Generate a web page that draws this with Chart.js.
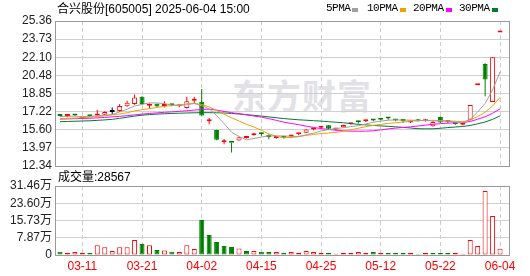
<!DOCTYPE html>
<html>
<head>
<meta charset="utf-8">
<script src="https://cdn.jsdelivr.net/npm/chart.js@4/dist/chart.umd.min.js"></script>
<style>
body { margin: 0; width: 530px; height: 276px; background: #fff; overflow: hidden; position: relative;
  font-family: "Liberation Sans", "Noto Sans CJK SC", sans-serif; }
canvas { position: absolute; left: 0; z-index: 1; }
#price { top: 0; }
#volume { top: 170px; }
.txt { position: absolute; z-index: 2; font-size: 12px; line-height: 14px; color: #000; white-space: pre; }
.lg { position: absolute; z-index: 2; top: 3px; font: 11px/11px "Liberation Mono", monospace; letter-spacing: -0.5px; color: #000; }
.sw { position: absolute; z-index: 2; top: 8px; width: 6px; height: 4px; }
#mark { position: absolute; z-index: 0; left: 232px; top: 77px; font: bold 34px/36px "Noto Sans CJK SC"; color: #e2e2e6; letter-spacing: 1px; }
</style>
</head>
<body>
<div id="mark">东方财富</div>
<div class="txt" style="left:57px;top:2px">合兴股份[605005] 2025-06-04 15:00</div>
<div class="lg" style="left:326px">5PMA</div><div class="sw" style="left:352px;background:#a0a0a0"></div>
<div class="lg" style="left:367px">10PMA</div><div class="sw" style="left:400px;background:#f0a000"></div>
<div class="lg" style="left:413px">20PMA</div><div class="sw" style="left:446px;background:#ff00ff"></div>
<div class="lg" style="left:459px">30PMA</div><div class="sw" style="left:492px;background:#007a33"></div>
<div class="txt" style="left:58px;top:170px">成交量:28567</div>
<canvas id="price" width="530" height="180"></canvas>
<canvas id="volume" width="530" height="106"></canvas>
<script>
var dates = ['03-06','03-07','03-10','03-11','03-12','03-13','03-14','03-17','03-18','03-19',
  '03-20','03-21','03-24','03-25','03-26','03-27','03-28','03-31','04-01','04-02',
  '04-03','04-07','04-08','04-09','04-10','04-11','04-14','04-15','04-16','04-17',
  '04-18','04-21','04-22','04-23','04-24','04-25','04-28','04-29','04-30','05-06',
  '05-07','05-08','05-09','05-12','05-13','05-14','05-15','05-16','05-19','05-20',
  '05-21','05-22','05-23','05-26','05-27','05-28','05-29','05-30','06-03','06-04'];

var openP = [16.85,16.83,16.90,16.58,16.82,16.88,16.95,17.20,17.28,17.70,
  17.90,18.55,17.75,17.92,17.72,17.85,17.70,17.55,18.20,18.10,
  16.36,15.57,14.48,14.43,14.62,14.86,15.10,15.25,15.00,14.85,
  14.90,15.00,15.18,15.33,15.62,15.78,16.00,15.62,15.82,16.10,
  16.30,16.35,16.53,16.55,16.65,16.45,16.42,16.24,16.53,16.36,
  15.90,16.75,16.35,16.15,16.05,16.50,19.60,21.50,18.09,24.32];
var highP = [16.88,16.98,16.98,16.70,16.88,17.36,17.25,17.60,17.90,18.20,
  18.75,18.60,17.95,17.95,18.15,17.90,17.80,18.55,18.55,19.25,
  16.65,15.60,14.76,14.45,14.95,15.00,15.30,15.35,15.20,14.98,
  14.95,15.15,15.30,15.65,15.75,15.90,16.02,15.75,16.05,16.22,
  16.40,16.52,16.55,16.62,16.72,16.50,16.52,16.42,16.55,16.55,
  16.35,16.78,16.45,16.20,16.25,17.82,19.60,21.56,22.11,24.32];
var lowP = [16.80,16.72,16.82,16.55,16.75,16.85,16.90,17.00,17.20,17.65,
  17.85,17.85,17.50,17.65,17.60,17.70,17.62,17.50,17.97,16.80,
  16.10,14.65,14.29,13.55,14.60,14.80,15.08,15.05,14.75,14.78,
  14.80,14.90,15.10,15.30,15.55,15.70,15.65,15.55,15.80,16.05,
  16.15,16.30,16.35,16.45,16.50,16.35,16.20,16.20,16.33,16.34,
  15.88,16.20,16.18,16.05,16.00,16.45,19.60,18.60,18.09,24.32];
var closeP = [16.83,16.86,16.88,16.66,16.80,17.05,17.20,17.20,17.73,18.02,
  18.50,17.90,17.88,17.68,17.80,17.80,17.75,18.15,18.25,16.87,
  16.40,14.70,14.52,14.42,14.92,14.90,15.27,15.20,14.95,14.90,
  14.87,15.08,15.22,15.62,15.68,15.84,15.68,15.68,16.02,16.18,
  16.26,16.47,16.42,16.50,16.60,16.42,16.38,16.40,16.36,16.53,
  16.30,16.25,16.30,16.10,16.20,17.82,19.60,20.10,22.11,24.32];

var ma5 = [16.78,16.80,16.82,16.78,16.80,16.84,16.91,16.97,17.20,17.44,
  17.73,17.87,18.01,18.00,17.95,17.81,17.78,17.84,17.95,17.76,
  17.48,16.87,16.15,15.38,14.99,14.69,14.81,14.94,15.05,15.04,
  15.04,15.00,15.00,15.14,15.29,15.49,15.61,15.70,15.78,15.88,
  15.96,16.12,16.27,16.37,16.45,16.48,16.46,16.46,16.43,16.42,
  16.39,16.37,16.35,16.30,16.23,16.53,17.20,17.96,19.17,20.79];
var ma10 = [16.60,16.62,16.65,16.68,16.72,16.78,16.85,16.92,17.02,17.12,
  17.29,17.39,17.49,17.60,17.70,17.77,17.83,17.92,17.97,17.86,
  17.65,17.33,16.99,16.67,16.38,16.09,15.84,15.55,15.22,15.02,
  14.87,14.90,14.97,15.09,15.17,15.26,15.30,15.35,15.46,15.59,
  15.73,15.87,15.99,16.07,16.17,16.22,16.29,16.37,16.40,16.43,
  16.44,16.42,16.40,16.36,16.32,16.46,16.79,17.16,17.73,18.51];
var ma20 = [16.55,16.57,16.59,16.61,16.63,16.66,16.70,16.75,16.80,16.86,
  16.93,17.00,17.06,17.11,17.16,17.20,17.25,17.30,17.36,17.42,
  17.44,17.36,17.24,17.13,17.04,16.93,16.83,16.73,16.59,16.44,
  16.28,16.16,16.05,15.92,15.80,15.70,15.62,15.55,15.50,15.47,
  15.46,15.47,15.50,15.58,15.67,15.74,15.80,15.86,15.93,16.01,
  16.08,16.14,16.19,16.22,16.24,16.34,16.54,16.76,17.07,17.47];
var ma30 = [16.32,16.34,16.36,16.38,16.40,16.44,16.48,16.53,16.62,16.72,
  16.82,16.90,16.96,17.00,17.03,17.06,17.08,17.10,17.12,17.13,
  17.13,17.12,17.10,17.06,17.01,16.95,16.89,16.82,16.75,16.67,
  16.60,16.54,16.49,16.45,16.41,16.37,16.32,16.27,16.22,16.15,
  16.08,16.03,15.98,15.94,15.90,15.86,15.81,15.75,15.69,15.68,
  15.68,15.73,15.79,15.84,15.89,15.98,16.13,16.29,16.53,16.84];

// volume in 万 (10k shares); volRise: 1 = red hollow bar, 0 = green
var volume = [1.5,0.9,1.4,0.9,0.9,4.4,3.5,1.8,3.5,3.5,
  6.8,5.0,4.4,2.3,2.1,1.5,1.4,4.4,2.7,16.0,
  9.1,5.9,4.1,3.6,3.0,1.8,1.8,1.5,1.4,1.4,
  0.9,1.4,0.9,1.8,1.4,0.9,0.9,0.6,0.9,0.9,
  1.4,0.9,1.4,0.9,0.9,0.9,0.9,0.9,0.5,0.9,
  0.9,0.9,0.9,0.9,0.5,6.8,4.1,29.2,17.8,2.8567];
var volRise = [0,1,1,1,0,1,1,1,1,1, 1,0,1,0,1,0,1,1,1,0, 0,0,0,0,1,0,1,0,0,1,
  0,1,1,1,1,1,0,1,1,1, 1,1,0,1,0,0,0,1,0,1, 0,0,0,1,1,1,1,1,1,1];

var tickDates = ['03-11','03-21','04-02','04-15','04-25','05-12','05-22','06-04'];
var priceTicks = [12.34,13.97,15.60,17.22,18.85,20.48,22.10,23.73,25.36];
var volTicks = [0,7.87,15.73,23.60,31.46];

var UP = '#ff0000', DOWN = '#008000';
var FONT = {family: "'Liberation Sans', 'Noto Sans CJK SC', sans-serif", size: 12};

var idx = dates.map(function(d, i) { return i; });

function candleColor(i) {
  if (closeP[i] > openP[i]) return UP;
  if (closeP[i] < openP[i]) return DOWN;
  if (i > 0 && closeP[i] > closeP[i - 1]) return UP;
  if (i > 0 && closeP[i] < closeP[i - 1]) return DOWN;
  return '#000';
}
var colors = idx.map(candleColor);

var frame = {
  id: 'frame',
  beforeDatasetsDraw: function(chart) {
    var a = chart.chartArea, ctx = chart.ctx;
    ctx.save();
    ctx.strokeStyle = '#999';
    ctx.lineWidth = 1;
    ctx.strokeRect(a.left + 0.5, a.top + 0.5, a.right - a.left, a.bottom - a.top);
    ctx.restore();
  }
};

function xScale(showLabels) {
  return {
    type: 'linear', min: -0.67, max: 60.2, offset: false,
    grid: {offset: false, color: '#cccccc', drawTicks: false},
    border: {display: false, dash: [4, 3]},
    afterBuildTicks: function(s) {
      s.ticks = tickDates.map(function(d) { return {value: dates.indexOf(d)}; });
    },
    afterFit: function(s) { s.height = showLabels ? 21 : 0; },
    ticks: {
      display: showLabels, padding: 4, color: UP, font: FONT, autoSkip: false, maxRotation: 0,
      callback: function(v) { return dates[v]; }
    }
  };
}

function yScale(ticks, fmt) {
  return {
    min: ticks[0], max: ticks[ticks.length - 1],
    grid: {color: '#d0d0d0', drawTicks: false},
    border: {display: false},
    afterBuildTicks: function(s) { s.ticks = ticks.map(function(v) { return {value: v}; }); },
    afterFit: function(s) { s.width = 55; },
    ticks: {padding: 3, color: '#222', font: FONT, autoSkip: false, callback: fmt}
  };
}

function maSet(values, color) {
  return {
    type: 'line', order: 0, data: idx.map(function(i) { return {x: i, y: values[i]}; }),
    borderColor: color, borderWidth: 1, pointRadius: 0, fill: false, tension: 0
  };
}

var common = {
  responsive: false, animation: false, events: [], devicePixelRatio: 1,
  plugins: {legend: {display: false}, tooltip: {enabled: false}}
};

new Chart(document.getElementById('price'), {
  type: 'bar',
  data: {
    datasets: [
      maSet(ma5, '#a0a0a0'),
      maSet(ma10, '#f0a000'),
      maSet(ma20, '#ff00ff'),
      maSet(ma30, '#007a33'),
      {
        order: 1, grouped: false, barThickness: 5, minBarLength: 2, inflateAmount: 0,
        borderWidth: 1, borderSkipped: false,
        data: idx.map(function(i) { return {x: i, y: [openP[i], closeP[i]]}; }),
        backgroundColor: idx.map(function(i) { return closeP[i] > openP[i] ? '#fff' : colors[i]; }),
        borderColor: colors
      },
      {
        order: 2, grouped: false, barThickness: 1, inflateAmount: 0, borderWidth: 0,
        data: idx.map(function(i) { return {x: i, y: [lowP[i], highP[i]]}; }),
        backgroundColor: colors
      }
    ]
  },
  options: Object.assign({}, common, {
    layout: {padding: {top: 21, right: 21, bottom: 14, left: 0}},
    scales: {
      x: xScale(false),
      y: yScale(priceTicks, function(v) { return v.toFixed(2); })
    }
  }),
  plugins: [frame]
});

new Chart(document.getElementById('volume'), {
  type: 'bar',
  data: {
    datasets: [{
      grouped: false, barThickness: 5, inflateAmount: 0, borderWidth: 1, borderSkipped: false,
      data: idx.map(function(i) { return {x: i, y: volume[i]}; }),
      backgroundColor: idx.map(function(i) { return volRise[i] ? '#fff' : DOWN; }),
      borderColor: idx.map(function(i) { return volRise[i] ? UP : DOWN; })
    }]
  },
  options: Object.assign({}, common, {
    layout: {padding: {top: 16, right: 21, bottom: 0, left: 0}},
    scales: {
      x: xScale(true),
      y: yScale(volTicks, function(v) { return v === 0 ? '0' : v.toFixed(2) + '万'; })
    }
  }),
  plugins: [frame]
});
</script>
</body>
</html>
